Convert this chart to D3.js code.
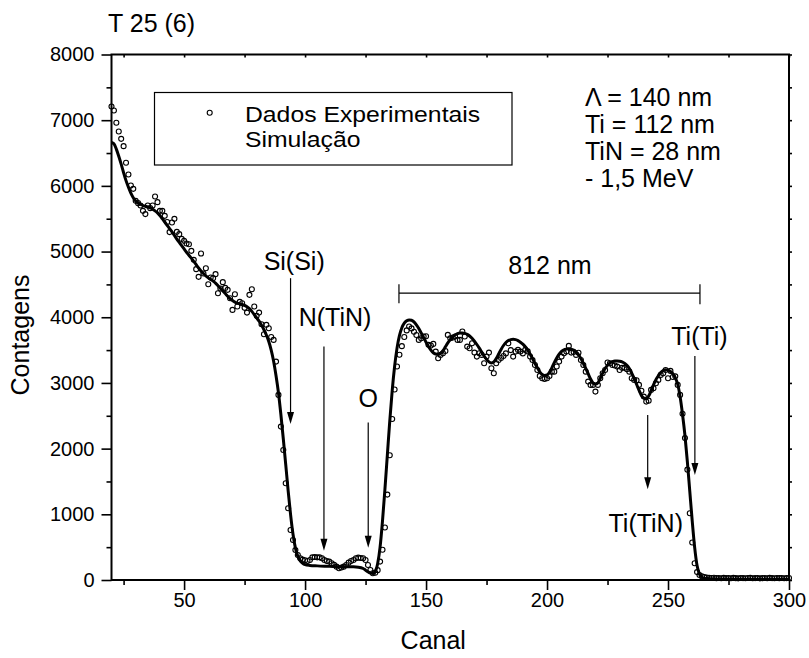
<!DOCTYPE html>
<html>
<head>
<meta charset="utf-8">
<script src="https://cdn.jsdelivr.net/npm/d3@7"></script>
<style>
    body { margin: 0; background: #fff; }
    svg { display: block; font-family: "Liberation Sans", Arial, sans-serif; }
</style>
</head>
<body>
<script>
(function(){

    //experimental spectrum (one count per channel, 20..300)
    var expCanal = d3.range(20, 301);
    var expCont = [
        7208, 7148, 6960, 6828, 6716, 6605, 6351, 6173, 6005, 5955, //20-29
        5772, 5737, 5701, 5620, 5570, 5701, 5661, 5701, 5838, 5752, //30-39
        5620, 5620, 5544, 5450, 5296, 5442, 5498, 5300, 5265, 5193, //40-49
        5163, 5122, 5112, 5011, 4874, 4732, 4615, 4970, 4665, 4747, //50-59
        4503, 4605, 4595, 4656, 4366, 4437, 4534, 4447, 4417, 4290, //60-69
        4112, 4351, 4163, 4234, 4214, 4143, 4071, 4341, 4427, 4163, //70-79
        4021, 4071, 3894, 3742, 3884, 3833, 3700, 3655, 3325, 2818, //80-89
        2335, 1980, 1473, 1092, 761, 609, 457, 380, 330, 310,       //90-99
        300, 290, 305, 345, 350, 345, 345, 330, 305, 290,           //100-109
        280, 254, 230, 203, 178, 190, 203, 229, 264, 290,           //110-119
        305, 330, 340, 335, 330, 305, 229, 152, 102, 110,           //120-129
        150, 280, 460, 800, 1300, 1900, 2450, 2900, 3250, 3430,     //130-139
        3560, 3700, 3800, 3860, 3830, 3780, 3730, 3655, 3680, 3706, //140-149
        3710, 3580, 3570, 3594, 3477, 3376, 3427, 3452, 3487, 3731, //150-159
        3681, 3690, 3706, 3655, 3655, 3782, 3706, 3553, 3528, 3604, //160-169
        3462, 3401, 3452, 3427, 3300, 3401, 3462, 3224, 3148, 3300, //170-179
        3350, 3380, 3411, 3450, 3604, 3500, 3401, 3477, 3503, 3477, //180-189
        3450, 3503, 3480, 3401, 3350, 3274, 3198, 3107, 3072, 3060, //190-199
        3072, 3107, 3172, 3172, 3250, 3325, 3401, 3452, 3477, 3564, //200-209
        3462, 3470, 3427, 3460, 3350, 3274, 3172, 3020, 2970, 2970, //210-219
        2868, 2970, 3072, 3148, 3198, 3310, 3300, 3274, 3265, 3249, //220-229
        3198, 3230, 3230, 3210, 3172, 3072, 3046, 3040, 2970, 2880, //230-239
        2792, 2716, 2730, 2894, 2920, 2996, 3046, 3122, 3148, 3198, //240-249
        3072, 3183, 3090, 3100, 2970, 2818, 2530, 2160, 1680, 1016, //250-259
        570, 254, 120, 76, 55, 45, 38, 32, 30, 34,                  //260-269
        28, 31, 26, 33, 29, 30, 27, 32, 28, 25,                     //270-279
        31, 29, 26, 30, 33, 27, 29, 31, 25, 28,                     //280-289
        30, 26, 32, 29, 27, 31, 28, 30, 26, 29,                     //290-299
        31                                                          //300
    ];

    //simulated spectrum
    var simCanal = [
        20, 21, 22, 23, 24, 25, 26, 27, 28, 29, 30, 31, 32, 33, 34, 35, 36, 37, 38, 39,
        40, 41, 42, 43, 44, 45, 46, 47, 48, 49, 50, 51, 52, 53, 54, 55, 56, 57, 58, 59,
        60, 61, 62, 63, 64, 65, 66, 67, 68, 69, 70, 71, 72, 73, 74, 75, 76, 77, 78, 79,
        80, 81, 82, 83, 84, 85, 86, 87, 88, 89, 90, 91, 92, 93, 94, 95, 96, 97, 98, 99,
        100, 102, 105, 110, 115, 118, 120, 122, 124, 125, 126, 127, 128, 129,
        130, 131, 132, 133, 134, 135, 136, 137, 138, 139,
        140, 141, 142, 143, 144, 145, 146, 147, 148, 149, 150, 151, 152, 153, 154, 155, 156, 157, 158, 159,
        160, 161, 162, 163, 164, 165, 166, 167, 168, 169, 170, 171, 172, 173, 174, 175, 176, 177, 178, 179,
        180, 181, 182, 183, 184, 185, 186, 187, 188, 189, 190, 191, 192, 193, 194, 195, 196, 197, 198, 199,
        200, 201, 202, 203, 204, 205, 206, 207, 208, 209, 210, 211, 212, 213, 214, 215, 216, 217, 218, 219,
        220, 221, 222, 223, 224, 225, 226, 227, 228, 229, 230, 231, 232, 233, 234, 235, 236, 237, 238, 239,
        240, 241, 242, 243, 244, 245, 246, 247, 248, 249, 250, 251, 252, 253, 254, 255, 256, 257, 258, 259,
        260, 261, 262, 263, 264, 265, 270, 280, 290, 300
    ];
    var simCont = [
        6660, 6640, 6560, 6450, 6330, 6200, 6080, 5980, 5890, 5820, 5770, 5740, 5720, 5700, 5690, 5680, 5665, 5645, 5620, 5590,
        5550, 5500, 5450, 5400, 5350, 5300, 5245, 5190, 5140, 5090, 5040, 4990, 4945, 4900, 4850, 4800, 4750, 4705, 4665, 4630,
        4600, 4575, 4550, 4520, 4480, 4440, 4400, 4360, 4320, 4285, 4255, 4230, 4215, 4205, 4195, 4180, 4160, 4130, 4090, 4040,
        3990, 3940, 3880, 3810, 3730, 3630, 3500, 3330, 3110, 2850, 2520, 2150, 1760, 1360, 1000, 700, 490, 360, 290, 255,
        235, 222, 215, 208, 200, 200, 200, 195, 175, 150, 125, 105, 100, 130,
        250, 500, 900, 1380, 1900, 2420, 2880, 3250, 3530, 3720,
        3840, 3910, 3945, 3960, 3955, 3930, 3885, 3830, 3760, 3690, 3620, 3555, 3500, 3460, 3440, 3435, 3450, 3490, 3550, 3610,
        3660, 3700, 3730, 3750, 3760, 3760, 3755, 3740, 3715, 3680, 3635, 3585, 3530, 3470, 3410, 3360, 3320, 3305, 3320, 3370,
        3440, 3510, 3570, 3615, 3645, 3660, 3665, 3660, 3645, 3620, 3590, 3550, 3500, 3440, 3370, 3300, 3230, 3170, 3130, 3115,
        3120, 3160, 3230, 3310, 3380, 3440, 3480, 3505, 3515, 3520, 3515, 3500, 3475, 3430, 3370, 3300, 3220, 3140, 3060, 3000,
        2980, 3000, 3070, 3150, 3220, 3270, 3305, 3325, 3335, 3335, 3330, 3320, 3300, 3270, 3220, 3150, 3070, 2980, 2890, 2810,
        2770, 2760, 2800, 2880, 2970, 3050, 3110, 3160, 3190, 3200, 3195, 3175, 3140, 3080, 2980, 2790, 2520, 2200, 1800, 1350,
        900, 500, 220, 90, 45, 25, 15, 12, 10, 10
    ];

    //axis ticks
    var xTicks = [50, 100, 150, 200, 250, 300];
    var xMinor = [25, 75, 125, 175, 225, 275];
    var xTop = [25, 50, 75, 100, 125, 150, 175, 200, 225, 250, 275, 300];
    var yTicks = [0, 1000, 2000, 3000, 4000, 5000, 6000, 7000, 8000];
    var yMinor = [500, 1500, 2500, 3500, 4500, 5500, 6500, 7500];

    //texts
    var legendLabels = ["Dados Experimentais", "Simulação"];
    var paramLabels = ["\u039B = 140 nm", "Ti = 112 nm", "TiN = 28 nm", "- 1,5 MeV"];

    //element markers: label, label position, arrow channel, arrow start and tip (data units)
    var peakLabels = ["Si(Si)", "N(TiN)", "O", "Ti(Ti)", "Ti(TiN)"];
    var labelCanal = [95.5, 112.4, 126.1, 263.0, 240.8];
    var labelCont = [4720, 3870, 2630, 3580, 730];
    var arrowCanal = [94.0, 107.8, 126.1, 261.1, 241.6];
    var arrowFrom = [4595, 3553, 2396, 3411, 2513];
    var arrowTo = [2376, 446, 492, 1599, 1381];

    //thickness bracket
    var bracketCanal = [138.8, 263.2];
    var bracketCont = 4366;
    var bracketLabel = "812 nm";
    var bracketLabelCont = 4660;

    //frame dimensions
    var width = 809,
        height = 658;
    var left = 111.5, right = 789, top = 54.5, bottom = 580;

    var svg = d3.select("body")
        .append("svg")
        .attr("width", width)
        .attr("height", height);

    var x = d3.scaleLinear().domain([20, 300]).range([left, right]);
    var y = d3.scaleLinear().domain([0, 8000]).range([bottom, top]);

    //bottom axis, major and minor ticks
    svg.append("g")
        .attr("transform", "translate(0," + bottom + ")")
        .call(d3.axisBottom(x).tickValues(xTicks).tickSize(10).tickPadding(3).tickFormat(d3.format("d")));
    svg.append("g")
        .attr("transform", "translate(0," + bottom + ")")
        .call(d3.axisBottom(x).tickValues(xMinor).tickSize(5).tickFormat(""));

    //left axis, major and minor ticks
    svg.append("g")
        .attr("transform", "translate(" + left + ",0)")
        .call(d3.axisLeft(y).tickValues(yTicks).tickSize(10).tickPadding(7).tickFormat(d3.format("d")));
    svg.append("g")
        .attr("transform", "translate(" + left + ",0)")
        .call(d3.axisLeft(y).tickValues(yMinor).tickSize(5).tickFormat(""));

    //small ticks on the top and right side
    svg.append("g")
        .attr("transform", "translate(0," + top + ")")
        .call(d3.axisBottom(x).tickValues(xTop).tickSize(3).tickFormat(""));
    svg.append("g")
        .attr("transform", "translate(" + right + ",0)")
        .call(d3.axisRight(y).tickValues(yTicks.concat(yMinor)).tickSize(3).tickFormat(""));

    svg.selectAll(".domain").remove();
    svg.selectAll(".tick line").attr("stroke", "#000").attr("stroke-width", 1.6);
    svg.selectAll(".tick text")
        .attr("fill", "#000")
        .style("font-size", "20px");

    //frame
    svg.append("rect")
        .attr("x", left)
        .attr("y", top)
        .attr("width", right - left)
        .attr("height", bottom - top)
        .attr("fill", "none")
        .attr("stroke", "#000")
        .attr("stroke-width", 2);

    //simulation curve
    var line = d3.line()
        .x(function(d, i){ return x(simCanal[i]); })
        .y(function(d){ return y(d); })
        .curve(d3.curveMonotoneX);

    svg.append("path")
        .datum(simCont)
        .attr("d", line)
        .attr("fill", "none")
        .attr("stroke", "#000")
        .attr("stroke-width", 3)
        .attr("stroke-linejoin", "round");

    //experimental points
    svg.selectAll(".ponto")
        .data(expCont)
        .enter()
        .append("circle")
        .attr("class", "ponto")
        .attr("cx", function(d, i){ return x(expCanal[i]); })
        .attr("cy", function(d){ return y(d); })
        .attr("r", 2.5)
        .attr("fill", "none")
        .attr("stroke", "#000")
        .attr("stroke-width", 1.1);

    //arrows for the elements
    peakLabels.forEach(function(lab, i){
        var ax = x(arrowCanal[i]),
            y0 = y(arrowFrom[i]),
            y1 = y(arrowTo[i]);
        svg.append("line")
            .attr("x1", ax).attr("x2", ax)
            .attr("y1", y0).attr("y2", y1 - 8)
            .attr("stroke", "#000")
            .attr("stroke-width", 1.2);
        svg.append("path")
            .attr("d", "M" + ax + "," + y1 + " L" + (ax - 3.5) + "," + (y1 - 12) + " L" + (ax + 3.5) + "," + (y1 - 12) + " Z")
            .attr("fill", "#000");
        svg.append("text")
            .attr("x", x(labelCanal[i]))
            .attr("y", y(labelCont[i]))
            .attr("text-anchor", "middle")
            .style("font-size", "25px")
            .text(lab);
    });

    //812 nm bracket
    var bx0 = x(bracketCanal[0]), bx1 = x(bracketCanal[1]), by = y(bracketCont);
    svg.append("path")
        .attr("d", "M" + bx0 + "," + (by - 9) + " V" + (by + 10) +
                   " M" + bx0 + "," + by + " H" + bx1 +
                   " M" + bx1 + "," + (by - 9) + " V" + (by + 11))
        .attr("fill", "none")
        .attr("stroke", "#000")
        .attr("stroke-width", 1.2);
    svg.append("text")
        .attr("x", (bx0 + bx1) / 2 + 0.5)
        .attr("y", y(bracketLabelCont))
        .attr("text-anchor", "middle")
        .style("font-size", "25px")
        .text(bracketLabel);

    //legend (narrow font stretched sideways so the two lines fit 25px apart)
    var legend = svg.append("g").attr("class", "legend");
    legend.append("rect")
        .attr("x", 154.5)
        .attr("y", 92.5)
        .attr("width", 357.5)
        .attr("height", 72.5)
        .attr("fill", "#fff")
        .attr("stroke", "#000")
        .attr("stroke-width", 1.2);
    legend.append("circle")
        .attr("cx", 209.7)
        .attr("cy", 112.7)
        .attr("r", 2.5)
        .attr("fill", "none")
        .attr("stroke", "#000")
        .attr("stroke-width", 1.1);
    legend.selectAll(".legText")
        .data(legendLabels)
        .enter()
        .append("text")
        .attr("class", "legText")
        .attr("transform", function(d, i){ return "translate(245," + (121.5 + i * 25.5) + ") scale(1.1,1)"; })
        .style("font-size", "22.5px")
        .text(function(d){ return d; });

    //sample parameters
    svg.append("text")
        .attr("y", 106)
        .style("font-size", "25px")
        .selectAll("tspan")
        .data(paramLabels)
        .enter()
        .append("tspan")
        .attr("x", 585)
        .attr("dy", function(d, i){ return i === 0 ? 0 : 27; })
        .text(function(d){ return d; });

    //title and axis titles
    svg.append("text")
        .attr("x", 108)
        .attr("y", 32)
        .style("font-size", "25px")
        .text("T 25 (6)");

    svg.append("text")
        .attr("x", (left + right) / 2 - 17)
        .attr("y", 649)
        .attr("text-anchor", "middle")
        .style("font-size", "25px")
        .text("Canal");

    svg.append("text")
        .attr("transform", "translate(29,335) rotate(-90)")
        .attr("text-anchor", "middle")
        .style("font-size", "25px")
        .text("Contagens");

})();
</script>
</body>
</html>
